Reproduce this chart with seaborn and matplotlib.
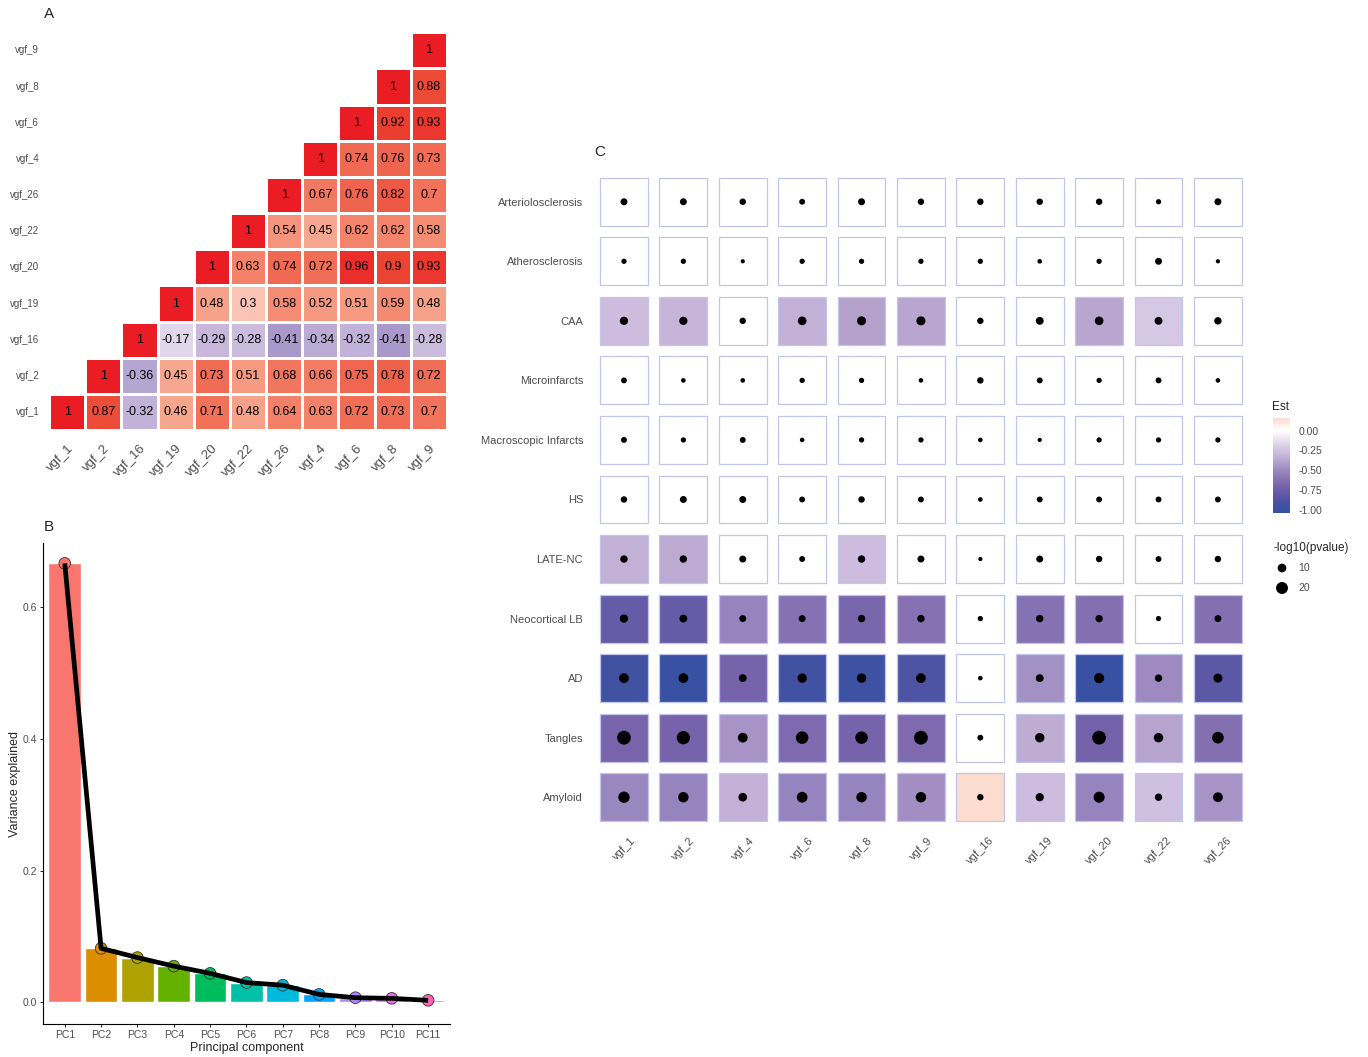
import numpy as np
import pandas as pd
import matplotlib
matplotlib.use("Agg")
import matplotlib.pyplot as plt
import seaborn as sns
from matplotlib.colors import LinearSegmentedColormap, Normalize
from matplotlib.cm import ScalarMappable

sns.set_style("white")
plt.rcParams['font.family'] = ['Liberation Sans', 'DejaVu Sans']

# ---- panel A: correlation between vgf peptides
corr_names = ["vgf_1", "vgf_2", "vgf_16", "vgf_19", "vgf_20", "vgf_22",
              "vgf_26", "vgf_4", "vgf_6", "vgf_8", "vgf_9"]
# upper rows: row i, values for columns i..10
corr_rows = [
    [1, 0.87, -0.32, 0.46, 0.71, 0.48, 0.64, 0.63, 0.72, 0.73, 0.7],
    [1, -0.36, 0.45, 0.73, 0.51, 0.68, 0.66, 0.75, 0.78, 0.72],
    [1, -0.17, -0.29, -0.28, -0.41, -0.34, -0.32, -0.41, -0.28],
    [1, 0.48, 0.3, 0.58, 0.52, 0.51, 0.59, 0.48],
    [1, 0.63, 0.74, 0.72, 0.96, 0.9, 0.93],
    [1, 0.54, 0.45, 0.62, 0.62, 0.58],
    [1, 0.67, 0.76, 0.82, 0.7],
    [1, 0.74, 0.76, 0.73],
    [1, 0.92, 0.93],
    [1, 0.88],
    [1],
]

# ---- panel B: scree plot
pc_names = ["PC1", "PC2", "PC3", "PC4", "PC5", "PC6", "PC7", "PC8", "PC9", "PC10", "PC11"]
var_explained = [0.667, 0.082, 0.068, 0.055, 0.044, 0.030, 0.026, 0.012, 0.007, 0.006, 0.003]
pc_colors = ["#F8766D", "#DB8E00", "#AEA200", "#64B200", "#00BD5C", "#00C1A7",
             "#00BADE", "#00A6FF", "#B385FF", "#EF67EB", "#FF63B6"]

# ---- panel C: association with neuropathology
traits = ["Arteriolosclerosis", "Atherosclerosis", "CAA", "Microinfarcts",
          "Macroscopic Infarcts", "HS", "LATE-NC", "Neocortical LB", "AD",
          "Tangles", "Amyloid"]
peptides = ["vgf_1", "vgf_2", "vgf_4", "vgf_6", "vgf_8", "vgf_9", "vgf_16",
            "vgf_19", "vgf_20", "vgf_22", "vgf_26"]
est = [
    [0, 0, 0, 0, 0, 0, 0, 0, 0, 0, 0],
    [0, 0, 0, 0, 0, 0, 0, 0, 0, 0, 0],
    [-0.28, -0.31, 0, -0.33, -0.40, -0.37, 0, 0, -0.37, -0.22, 0],
    [0, 0, 0, 0, 0, 0, 0, 0, 0, 0, 0],
    [0, 0, 0, 0, 0, 0, 0, 0, 0, 0, 0],
    [0, 0, 0, 0, 0, 0, 0, 0, 0, 0, 0],
    [-0.33, -0.36, 0, 0, -0.28, 0, 0, 0, 0, 0, 0],
    [-0.78, -0.78, -0.52, -0.62, -0.68, -0.62, 0, -0.62, -0.63, 0, -0.63],
    [-0.93, -1.0, -0.70, -0.93, -0.97, -0.88, 0, -0.46, -1.0, -0.49, -0.82],
    [-0.69, -0.70, -0.45, -0.66, -0.70, -0.66, 0, -0.35, -0.72, -0.38, -0.63],
    [-0.50, -0.52, -0.33, -0.52, -0.52, -0.47, 0.16, -0.28, -0.52, -0.26, -0.45],
]
logp = [
    [6, 6, 5, 4, 6, 5, 5, 5, 5, 3, 6],
    [3, 3, 1.5, 3, 3, 3, 3, 2, 3, 6, 1.5],
    [9, 9, 5, 10, 11, 11, 5, 8, 10, 8, 7],
    [4, 2, 2, 3, 3, 2, 5, 4, 3, 4, 2],
    [4, 3, 4, 2, 3, 3, 2, 1.5, 3, 3, 3],
    [5, 6, 6, 4, 5, 4, 2, 4, 4, 4, 4],
    [7, 7, 6, 4, 7, 6, 1.5, 6, 5, 4, 5],
    [9, 8, 6, 6, 7, 7, 3, 7, 7, 3, 6],
    [13, 13, 8, 12, 12, 13, 2, 8, 14, 7, 11],
    [27, 25, 13, 22, 22, 27, 4, 12, 27, 12, 19],
    [18, 15, 10, 16, 15, 15, 5, 9, 17, 7, 13],
]

GREY = "#4D4D4D"
fig = plt.figure(figsize=(13.68, 10.57), dpi=100)

# ================= A
n = len(corr_names)
mat = np.full((n, n), np.nan)
for i, row in enumerate(corr_rows):
    for k, v in enumerate(row):
        mat[i, i + k] = v
        mat[i + k, i] = v
mask = np.tril(np.ones((n, n), dtype=bool), -1)  # hide below diagonal


def fmt(v):
    s = ("%.2f" % v).rstrip("0").rstrip(".")
    return s


annot = np.array([[fmt(v) for v in r] for r in mat])
df_corr = pd.DataFrame(mat, index=corr_names, columns=corr_names)

corr_stops = [(-1, "#3B2F9E"), (-0.41, "#A999CA"), (-0.29, "#C9B8DC"),
              (-0.17, "#E2D6EA"), (0, "#FFFFFF"), (0.3, "#FAC3B3"),
              (0.5, "#F69E85"), (0.7, "#F1735B"), (0.9, "#EC4634"), (1, "#EA1D25")]
corr_cmap = LinearSegmentedColormap.from_list(
    "corr", [((v + 1) / 2, c) for v, c in corr_stops])

axA = fig.add_axes([0.0358, 0.593, 0.291, 0.3765])
# flip rows so vgf_1 sits at the bottom
sns.heatmap(df_corr.iloc[::-1], mask=mask[::-1], annot=annot[::-1], fmt="",
            cmap=corr_cmap, vmin=-1, vmax=1, cbar=False, linewidths=0.8,
            linecolor="white", annot_kws={"size": 9, "color": "black"}, ax=axA)
axA.tick_params(length=0)
axA.tick_params(axis="y", pad=7)
axA.tick_params(axis="x", pad=9)
axA.set_xticklabels(corr_names, rotation=45, ha="right", rotation_mode="anchor",
                    fontsize=9.5, color=GREY)
axA.set_yticklabels(corr_names[::-1], rotation=0, fontsize=7, color=GREY)
axA.set_xlabel("")
axA.set_ylabel("")
fig.text(44 / 1368, 1 - 14 / 1057, "A", fontsize=11, va="center", ha="left")

# ================= B
axB = fig.add_axes([0.0314, 0.0312, 0.2975, 0.4551])
sns.barplot(x=pc_names, y=var_explained, hue=pc_names, palette=pc_colors,
            width=0.9, saturation=1, legend=False, ax=axB)
pos = np.arange(len(pc_names))
axB.scatter(pos, var_explained, s=70, c=pc_colors, edgecolors="#333333",
            linewidths=0.6, zorder=3)
axB.plot(pos, var_explained, color="black", lw=3.4, zorder=4,
         solid_capstyle="butt")
axB.set_xlim(-0.6, 10.6)
axB.set_ylim(-0.033, 0.698)
axB.set_yticks([0.0, 0.2, 0.4, 0.6])
axB.set_yticklabels(["0.0", "0.2", "0.4", "0.6"])
axB.tick_params(axis="both", labelsize=7.5, labelcolor=GREY, length=2.5,
                width=0.6, color="black", direction="out", left=True, bottom=True,
                pad=2)
sns.despine(ax=axB)
for sp in ("left", "bottom"):
    axB.spines[sp].set_linewidth(0.8)
    axB.spines[sp].set_color("black")
axB.set_xlabel("Principal component", fontsize=9, labelpad=1)
axB.set_ylabel("Variance explained", fontsize=9, labelpad=1)
fig.text(44 / 1368, 1 - 527 / 1057, "B", fontsize=11, va="center", ha="left")

# ================= C
rows = []
for i, t in enumerate(traits):
    for j, p in enumerate(peptides):
        rows.append({"trait": t, "peptide": p, "Est": est[i][j], "logp": logp[i][j]})
df_c = pd.DataFrame(rows)

vmin_c, vmax_c = -1.04, 0.16
est_stops = [(-1.04, "#3451A3"), (-0.92, "#4452A2"), (-0.8, "#6159A6"),
             (-0.7, "#7763AB"), (-0.6, "#8A75B4"), (-0.5, "#9B87C0"),
             (-0.4, "#B3A0CB"), (-0.3, "#C9B7DB"), (-0.2, "#D9CCE6"),
             (0, "#FFFFFF"), (0.16, "#FCDCCF")]
est_cmap = LinearSegmentedColormap.from_list(
    "est", [((v - vmin_c) / (vmax_c - vmin_c), c) for v, c in est_stops])
est_norm = Normalize(vmin_c, vmax_c)

axC = fig.add_axes([0.4344, 0.2176, 0.4776, 0.6197])
sns.scatterplot(data=df_c, x="peptide", y="trait", hue="Est", palette=est_cmap,
                hue_norm=est_norm, marker="s", s=1190, edgecolor="#C3C6EC",
                linewidth=0.9, legend=False, ax=axC)
sns.scatterplot(data=df_c, x="peptide", y="trait", size="logp", sizes=(4, 109),
                size_norm=(0, 30), color="black", edgecolor="none",
                legend=False, ax=axC)
axC.set_xlim(-0.5, 10.5)
axC.set_ylim(10.5, -0.5)
for sp in axC.spines.values():
    sp.set_visible(False)
axC.tick_params(length=0)
axC.tick_params(axis="y", pad=8, labelsize=8, labelcolor=GREY)
axC.tick_params(axis="x", pad=6, labelsize=8, labelcolor=GREY)
for lab in axC.get_xticklabels():
    lab.set_rotation(45)
    lab.set_ha("center")
axC.set_xlabel("")
axC.set_ylabel("")
fig.text(594 / 1368, 1 - 152 / 1057, "C", fontsize=11, va="center", ha="left")

# colour legend
cax = fig.add_axes([1273 / 1368, 1 - 513 / 1057, 17 / 1368, 95 / 1057])
cb = fig.colorbar(ScalarMappable(norm=est_norm, cmap=est_cmap), cax=cax)
cb.outline.set_visible(False)
cb.set_ticks([0, -0.25, -0.5, -0.75, -1.0])
cb.set_ticklabels(["0.00", "-0.25", "-0.50", "-0.75", "-1.00"])
cax.tick_params(length=3, width=0.6, color="white", direction="in",
                labelsize=7.5, labelcolor=GREY, pad=6)
fig.text(1272 / 1368, 1 - 407 / 1057, "Est", fontsize=8.5, va="center")

# size legend
fig.text(1273 / 1368, 1 - 548 / 1057, "-log10(pvalue)", fontsize=8.5, va="center")
lax = fig.add_axes([1272 / 1368, 1 - 598 / 1057, 20 / 1368, 40 / 1057])
leg_vals = [10, 20]
lax.scatter([0, 0], leg_vals, s=[4 + 105 * v / 30 for v in leg_vals],
            color="black", edgecolors="none")
lax.set_xlim(-1, 1)
lax.set_ylim(25, 5)
lax.axis("off")
for v in leg_vals:
    lax.text(1.6, v, str(v), fontsize=7.5, color=GREY, va="center",
             transform=lax.transData)

fig.savefig("out.png", dpi=100)
